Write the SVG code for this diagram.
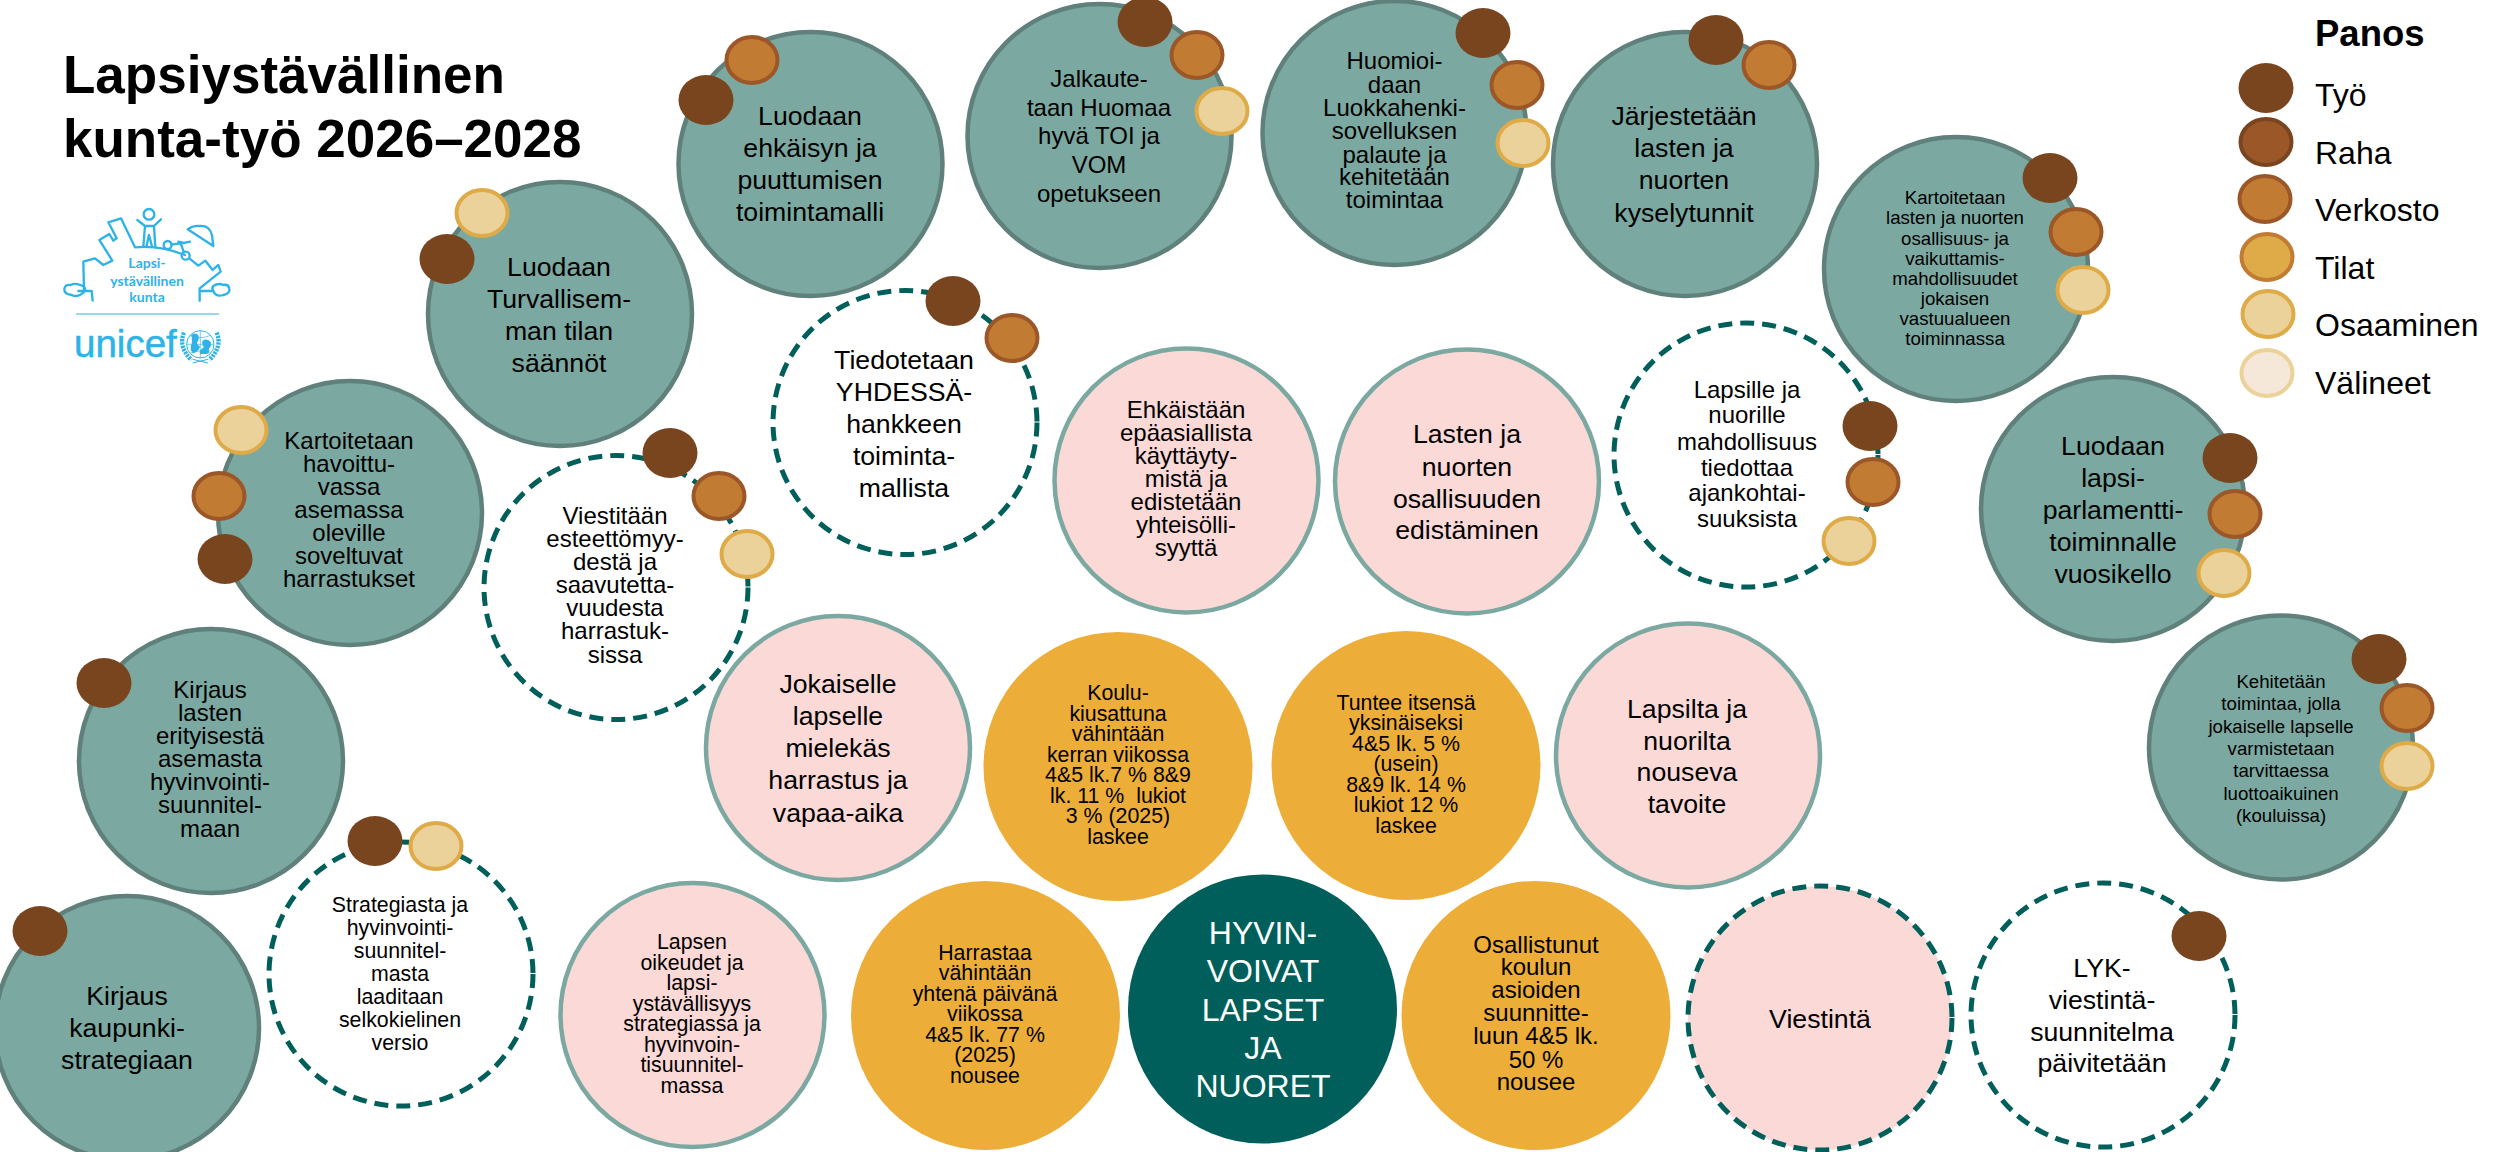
<svg xmlns="http://www.w3.org/2000/svg" width="2496" height="1152" viewBox="0 0 2496 1152">
<style>
text{font-family:"Liberation Sans",Arial,sans-serif;fill:#000}
.t{text-anchor:middle}
.s27{font-size:26.67px}.s24{font-size:24px}.s21{font-size:21.33px}.s19{font-size:18.67px}
.teal{fill:#7BA9A1;stroke:#5F807B;stroke-width:4.5}
.pink{fill:#FBD9D7;stroke:#7BA9A1;stroke-width:4.5}
.org{fill:#ECAE38}
.dark{fill:#005F5A}
.dash{fill:#fff;stroke:#005F5A;stroke-width:5;stroke-dasharray:14 8}
.dashp{fill:#FBD9D7;stroke:#005F5A;stroke-width:5;stroke-dasharray:14 8}
.tyo{fill:#78451F}
.raha{fill:#9C5728;stroke:#78451F;stroke-width:4}
.ver{fill:#C27B33;stroke:#9C5728;stroke-width:4}
.til{fill:#DFAB48;stroke:#C27B33;stroke-width:4}
.osa{fill:#EBD29A;stroke:#DFAB48;stroke-width:4}
.val{fill:#F5E8D8;stroke:#EBD29A;stroke-width:4}
.lg{fill:none;stroke:#2DB3E8;stroke-width:7;stroke-linejoin:round;stroke-linecap:round}
.lt{fill:#2DB3E8;text-anchor:middle;font-family:"Lato","Open Sans",sans-serif;font-weight:700;font-size:14px}
</style>
<defs>
<ellipse id="tyo" class="tyo" rx="27.5" ry="25"/>
<ellipse id="raha" class="raha" rx="25.5" ry="23"/>
<ellipse id="ver" class="ver" rx="25.5" ry="23"/>
<ellipse id="til" class="til" rx="25.5" ry="23"/>
<ellipse id="osa" class="osa" rx="25.5" ry="23"/>
<ellipse id="val" class="val" rx="25.5" ry="23"/>
</defs>

<g id="title"><text x="63" y="93" font-size="53" font-weight="700">Lapsiystävällinen</text><text x="63" y="157" font-size="53" font-weight="700">kunta-työ 2026–2028</text></g>

<g id="logo" transform="translate(50 190) scale(.3333)">
<circle class="lg" cx="297" cy="73" r="16"/>
<path class="lg" d="M262 90 L285 108 L280 170 M333 88 L312 108 L316 172 M285 108 H312 M297 135 L289 170 M297 135 L306 170"/>
<path class="lg" d="M102 300 L100 215 L135 205 L160 225 L187 212 L148 150 L178 132 L190 152 L200 145 L175 97 L213 85 L255 172 Q330 165 405 195"/>
<circle class="lg" cx="353" cy="165" r="12"/><circle class="lg" cx="407" cy="197" r="12"/>
<path class="lg" d="M364 163 L395 160 L420 155 M392 160 L402 187 M385 155 L398 158"/>
<path class="lg" d="M418 205 L445 227 L466 212 L488 240 L505 225 L512 245 L449 295 L449 332 M449 303 H490"/>
<path class="lg" d="M413 118 Q430 105 450 108 Q478 106 486 135 L490 168 Z"/>
<path class="lg" d="M128 332 L125 303 H85 M105 303 Q85 325 65 315 Q42 312 43 297 Q45 282 62 285 Q75 278 90 285 Q108 290 105 303"/>
<path class="lg" d="M490 303 Q498 322 520 315 Q542 310 538 295 Q535 282 520 285 Q505 278 490 288 Q484 295 490 303"/>
<path d="M78 372 H508" stroke="#2DB3E8" stroke-width="3.5" fill="none"/>
<circle cx="451" cy="463" r="41" fill="none" stroke="#2DB3E8" stroke-width="3"/>
<path d="M410 463 H492 M451 422 V504 M420 436 Q451 450 482 436 M420 490 Q451 476 482 490" fill="none" stroke="#2DB3E8" stroke-width="2"/>
<g fill="#2DB3E8">
<path d="M424 436 Q432 426 444 434 Q450 446 442 456 Q438 462 450 470 Q446 484 430 490 Q418 480 424 464 Q428 456 424 436Z"/>
<path d="M458 452 Q470 444 482 456 Q486 470 476 476 Q482 488 470 492 H450 Q446 480 462 472 Q454 462 458 452Z"/>
</g>
<path d="M402 428 Q384 470 424 510 M500 428 Q518 470 478 510" fill="none" stroke="#2DB3E8" stroke-width="13" stroke-dasharray="7 3"/>
<path d="M428 508 L474 519 M474 508 L428 519" fill="none" stroke="#2DB3E8" stroke-width="3"/>
</g>
<g id="logo-text"><text class="lt" x="147" y="268">Lapsi-</text><text class="lt" x="147" y="286">ystävällinen</text><text class="lt" x="147" y="302">kunta</text>
<text x="74" y="357" font-size="38.5" stroke="#2DB3E8" stroke-width=".5" style="fill:#2DB3E8">unicef</text></g>

<g id="legend">
<text x="2315" y="46" font-size="36.5" font-weight="700">Panos</text>
<use href="#tyo" x="2266" y="88"/><text x="2315" y="106" font-size="32">Työ</text>
<use href="#raha" x="2266" y="142"/><text x="2315" y="164" font-size="32">Raha</text>
<use href="#ver" x="2265" y="199"/><text x="2315" y="221" font-size="32">Verkosto</text>
<use href="#til" x="2267" y="257"/><text x="2315" y="279" font-size="32">Tilat</text>
<use href="#osa" x="2268" y="314"/><text x="2315" y="336" font-size="32">Osaaminen</text>
<use href="#val" x="2267" y="373"/><text x="2315" y="394" font-size="32">Välineet</text>
</g>

<g id="n-kaupunki"><circle class="teal" cx="127" cy="1028" r="132"/><text class="t s27"><tspan x="127" y="1005">Kirjaus</tspan><tspan x="127" y="1037">kaupunki-</tspan><tspan x="127" y="1069">strategiaan</tspan></text><use href="#tyo" x="40" y="931"/></g>

<g id="n-kirjaus"><circle class="teal" cx="211" cy="761" r="132"/><text class="t s24"><tspan x="210" y="698">Kirjaus</tspan><tspan x="210" y="721">lasten</tspan><tspan x="210" y="744">erityisestä</tspan><tspan x="210" y="767">asemasta</tspan><tspan x="210" y="790">hyvinvointi-</tspan><tspan x="210" y="813">suunnitel-</tspan><tspan x="210" y="837">maan</tspan></text><use href="#tyo" x="104" y="683"/></g>

<g id="n-havoittu"><circle class="teal" cx="350" cy="513" r="132"/><text class="t s24"><tspan x="349" y="449">Kartoitetaan</tspan><tspan x="349" y="472">havoittu-</tspan><tspan x="349" y="495">vassa</tspan><tspan x="349" y="518">asemassa</tspan><tspan x="349" y="541">oleville</tspan><tspan x="349" y="564">soveltuvat</tspan><tspan x="349" y="587">harrastukset</tspan></text><use href="#osa" x="241" y="430"/><use href="#ver" x="219" y="496"/><use href="#tyo" x="225" y="559"/></g>

<g id="n-turva"><circle class="teal" cx="560" cy="314" r="132"/><text class="t s27"><tspan x="559" y="276">Luodaan</tspan><tspan x="559" y="308">Turvallisem-</tspan><tspan x="559" y="340">man tilan</tspan><tspan x="559" y="372">säännöt</tspan></text><use href="#osa" x="482" y="213"/><use href="#tyo" x="447" y="259"/></g>

<g id="n-ehkaisy"><circle class="teal" cx="810.5" cy="164" r="132"/><text class="t s27"><tspan x="810" y="125">Luodaan</tspan><tspan x="810" y="157">ehkäisyn ja</tspan><tspan x="810" y="189">puuttumisen</tspan><tspan x="810" y="221">toimintamalli</tspan></text><use href="#ver" x="752" y="60"/><use href="#tyo" x="706" y="100"/></g>

<g id="n-jalkaute"><circle class="teal" cx="1099.5" cy="136" r="132"/><text class="t s24"><tspan x="1099" y="87">Jalkaute-</tspan><tspan x="1099" y="116">taan Huomaa</tspan><tspan x="1099" y="144">hyvä TOI ja</tspan><tspan x="1099" y="173">VOM</tspan><tspan x="1099" y="202">opetukseen</tspan></text><use href="#tyo" x="1145" y="22"/><use href="#ver" x="1197" y="55"/><use href="#osa" x="1222" y="111"/></g>

<g id="n-huomioi"><circle class="teal" cx="1394.5" cy="133" r="132"/><text class="t s24"><tspan x="1394.5" y="69">Huomioi-</tspan><tspan x="1394.5" y="93">daan</tspan><tspan x="1394.5" y="116">Luokkahenki-</tspan><tspan x="1394.5" y="139">sovelluksen</tspan><tspan x="1394.5" y="163">palaute ja</tspan><tspan x="1394.5" y="185">kehitetään</tspan><tspan x="1394.5" y="208">toimintaa</tspan></text><use href="#tyo" x="1483" y="33"/><use href="#ver" x="1517" y="85"/><use href="#osa" x="1523" y="143"/></g>

<g id="n-jarjestetaan"><circle class="teal" cx="1685" cy="164" r="132"/><text class="t s27"><tspan x="1684" y="125">Järjestetään</tspan><tspan x="1684" y="157">lasten ja</tspan><tspan x="1684" y="189">nuorten</tspan><tspan x="1684" y="222">kyselytunnit</tspan></text><use href="#tyo" x="1716" y="40"/><use href="#ver" x="1769" y="65"/></g>

<g id="n-osallisuus"><circle class="teal" cx="1956" cy="269" r="132"/><text class="t s19"><tspan x="1955" y="204">Kartoitetaan</tspan><tspan x="1955" y="224">lasten ja nuorten</tspan><tspan x="1955" y="245">osallisuus- ja</tspan><tspan x="1955" y="265">vaikuttamis-</tspan><tspan x="1955" y="285">mahdollisuudet</tspan><tspan x="1955" y="305">jokaisen</tspan><tspan x="1955" y="325">vastuualueen</tspan><tspan x="1955" y="345">toiminnassa</tspan></text><use href="#tyo" x="2050" y="178"/><use href="#ver" x="2076" y="232"/><use href="#osa" x="2083" y="290"/></g>

<g id="n-parlamentti"><circle class="teal" cx="2113" cy="509" r="132"/><text class="t s27"><tspan x="2113" y="455">Luodaan</tspan><tspan x="2113" y="487">lapsi-</tspan><tspan x="2113" y="519">parlamentti-</tspan><tspan x="2113" y="551">toiminnalle</tspan><tspan x="2113" y="583">vuosikello</tspan></text><use href="#tyo" x="2230" y="458"/><use href="#ver" x="2235" y="514"/><use href="#osa" x="2224" y="573"/></g>

<g id="n-kehitetaan"><circle class="teal" cx="2281" cy="747.5" r="132"/><text class="t s19"><tspan x="2281" y="688">Kehitetään</tspan><tspan x="2281" y="710">toimintaa, jolla</tspan><tspan x="2281" y="733">jokaiselle lapselle</tspan><tspan x="2281" y="755">varmistetaan</tspan><tspan x="2281" y="777">tarvittaessa</tspan><tspan x="2281" y="800">luottoaikuinen</tspan><tspan x="2281" y="822">(kouluissa)</tspan></text><use href="#tyo" x="2379" y="659"/><use href="#ver" x="2407" y="708"/><use href="#osa" x="2407" y="766"/></g>

<g id="n-strategia"><circle class="dash" cx="401" cy="974" r="132"/><text class="t s21"><tspan x="400" y="912">Strategiasta ja</tspan><tspan x="400" y="935">hyvinvointi-</tspan><tspan x="400" y="958">suunnitel-</tspan><tspan x="400" y="981">masta</tspan><tspan x="400" y="1004">laaditaan</tspan><tspan x="400" y="1027">selkokielinen</tspan><tspan x="400" y="1050">versio</tspan></text><use href="#tyo" x="375" y="841"/><use href="#osa" x="436" y="846"/></g>

<g id="n-viestitaan"><circle class="dash" cx="616" cy="587.5" r="132"/><text class="t s24"><tspan x="615" y="524">Viestitään</tspan><tspan x="615" y="547">esteettömyy-</tspan><tspan x="615" y="570">destä ja</tspan><tspan x="615" y="593">saavutetta-</tspan><tspan x="615" y="616">vuudesta</tspan><tspan x="615" y="639">harrastuk-</tspan><tspan x="615" y="663">sissa</tspan></text><use href="#tyo" x="670" y="453"/><use href="#ver" x="719" y="496"/><use href="#osa" x="747" y="554"/></g>

<g id="n-tiedotetaan"><circle class="dash" cx="905" cy="422.5" r="132"/><text class="t s27"><tspan x="904" y="369">Tiedotetaan</tspan><tspan x="904" y="401">YHDESSÄ-</tspan><tspan x="904" y="433">hankkeen</tspan><tspan x="904" y="465">toiminta-</tspan><tspan x="904" y="497">mallista</tspan></text><use href="#tyo" x="953" y="301"/><use href="#ver" x="1012" y="338"/></g>

<g id="n-lapsille"><circle class="dash" cx="1746" cy="455" r="132"/><text class="t s24"><tspan x="1747" y="398">Lapsille ja</tspan><tspan x="1747" y="423">nuorille</tspan><tspan x="1747" y="450">mahdollisuus</tspan><tspan x="1747" y="476">tiedottaa</tspan><tspan x="1747" y="501">ajankohtai-</tspan><tspan x="1747" y="527">suuksista</tspan></text><use href="#tyo" x="1870" y="426"/><use href="#ver" x="1873" y="482"/><use href="#osa" x="1849" y="541"/></g>

<g id="n-lyk"><circle class="dash" cx="2103" cy="1015" r="132"/><text class="t s27"><tspan x="2102" y="977">LYK-</tspan><tspan x="2102" y="1009">viestintä-</tspan><tspan x="2102" y="1041">suunnitelma</tspan><tspan x="2102" y="1072">päivitetään</tspan></text><use href="#tyo" x="2199" y="936"/></g>

<g id="n-lapsen"><circle class="pink" cx="692.5" cy="1015" r="132"/><text class="t s21"><tspan x="692" y="949">Lapsen</tspan><tspan x="692" y="970">oikeudet ja</tspan><tspan x="692" y="990">lapsi-</tspan><tspan x="692" y="1011">ystävällisyys</tspan><tspan x="692" y="1031">strategiassa ja</tspan><tspan x="692" y="1052">hyvinvoin-</tspan><tspan x="692" y="1072">tisuunnitel-</tspan><tspan x="692" y="1093">massa</tspan></text></g>

<g id="n-jokaiselle"><circle class="pink" cx="838" cy="748" r="132"/><text class="t s27"><tspan x="838" y="693">Jokaiselle</tspan><tspan x="838" y="725">lapselle</tspan><tspan x="838" y="757">mielekäs</tspan><tspan x="838" y="789">harrastus ja</tspan><tspan x="838" y="822">vapaa-aika</tspan></text></g>

<g id="n-ehkaistaan"><circle class="pink" cx="1186.5" cy="480.5" r="132"/><text class="t s24"><tspan x="1186" y="418">Ehkäistään</tspan><tspan x="1186" y="441">epäasiallista</tspan><tspan x="1186" y="464">käyttäyty-</tspan><tspan x="1186" y="487">mistä ja</tspan><tspan x="1186" y="510">edistetään</tspan><tspan x="1186" y="533">yhteisölli-</tspan><tspan x="1186" y="556">syyttä</tspan></text></g>

<g id="n-lasten"><circle class="pink" cx="1467" cy="481.5" r="132"/><text class="t s27"><tspan x="1467" y="443">Lasten ja</tspan><tspan x="1467" y="476">nuorten</tspan><tspan x="1467" y="508">osallisuuden</tspan><tspan x="1467" y="539">edistäminen</tspan></text></g>

<g id="n-lapsilta"><circle class="pink" cx="1688" cy="755.5" r="132"/><text class="t s27"><tspan x="1687" y="718">Lapsilta ja</tspan><tspan x="1687" y="750">nuorilta</tspan><tspan x="1687" y="781">nouseva</tspan><tspan x="1687" y="813">tavoite</tspan></text></g>

<g id="n-viestinta"><circle class="dashp" cx="1820" cy="1018" r="132"/><text class="t s27"><tspan x="1820" y="1028">Viestintä</tspan></text></g>

<g id="n-koulu"><circle class="org" cx="1118" cy="766.5" r="134.5"/><text class="t s21"><tspan x="1118" y="700">Koulu-</tspan><tspan x="1118" y="721">kiusattuna</tspan><tspan x="1118" y="741">vähintään</tspan><tspan x="1118" y="762">kerran viikossa</tspan><tspan x="1118" y="782">4&amp;5 lk.7 % 8&amp;9</tspan><tspan x="1118" y="803" xml:space="preserve">lk. 11 %  lukiot</tspan><tspan x="1118" y="823">3 % (2025)</tspan><tspan x="1118" y="844">laskee</tspan></text></g>

<g id="n-tuntee"><circle class="org" cx="1406" cy="765.5" r="134.5"/><text class="t s21"><tspan x="1406" y="710">Tuntee itsensä</tspan><tspan x="1406" y="730">yksinäiseksi</tspan><tspan x="1406" y="751">4&amp;5 lk. 5 %</tspan><tspan x="1406" y="771">(usein)</tspan><tspan x="1406" y="792">8&amp;9 lk. 14 %</tspan><tspan x="1406" y="812">lukiot 12 %</tspan><tspan x="1406" y="833">laskee</tspan></text></g>

<g id="n-harrastaa"><circle class="org" cx="985.5" cy="1015.5" r="134.5"/><text class="t s21"><tspan x="985" y="960">Harrastaa</tspan><tspan x="985" y="980">vähintään</tspan><tspan x="985" y="1001">yhtenä päivänä</tspan><tspan x="985" y="1021">viikossa</tspan><tspan x="985" y="1042">4&amp;5 lk. 77 %</tspan><tspan x="985" y="1062">(2025)</tspan><tspan x="985" y="1083">nousee</tspan></text></g>

<g id="n-osallistunut"><circle class="org" cx="1536" cy="1015.5" r="134.5"/><text class="t s24"><tspan x="1536" y="953">Osallistunut</tspan><tspan x="1536" y="975">koulun</tspan><tspan x="1536" y="998">asioiden</tspan><tspan x="1536" y="1021">suunnitte-</tspan><tspan x="1536" y="1044">luun 4&amp;5 lk.</tspan><tspan x="1536" y="1068">50 %</tspan><tspan x="1536" y="1090">nousee</tspan></text></g>

<g id="n-hyvin"><circle class="dark" cx="1262.5" cy="1009" r="134.5"/><text class="t" font-size="32" style="fill:#fff"><tspan x="1263" y="944">HYVIN-</tspan><tspan x="1263" y="982">VOIVAT</tspan><tspan x="1263" y="1021">LAPSET</tspan><tspan x="1263" y="1059">JA</tspan><tspan x="1263" y="1097">NUORET</tspan></text></g>
</svg>
